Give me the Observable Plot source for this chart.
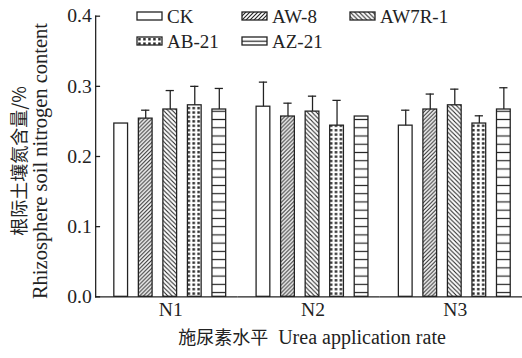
<!DOCTYPE html>
<html><head><meta charset="utf-8">
<script src="https://cdn.jsdelivr.net/npm/d3@7"></script>
<script src="https://cdn.jsdelivr.net/npm/@observablehq/plot@0.6"></script>
<style>
html,body{margin:0;padding:0;background:#fff;overflow:hidden;}
#wrap{position:relative;width:522px;height:358px;overflow:hidden;font-family:"Liberation Serif","Times New Roman","Tinos","DejaVu Serif",serif;color:#222;}
#chart{position:absolute;left:0;top:0;}
.rot{position:absolute;white-space:nowrap;transform:translate(-50%,-50%) rotate(-90deg);line-height:1;}
#xtitle{position:absolute;left:312px;top:326px;transform:translateX(-50%);white-space:nowrap;font-size:20px;line-height:20px;}
#legend{position:absolute;left:0;top:0;}
</style></head>
<body>
<svg width="0" height="0" style="position:absolute">
<defs>
<pattern id="pCK" patternUnits="userSpaceOnUse" width="4" height="4"><rect width="4" height="4" fill="#fff"/></pattern>
<pattern id="pAW8" patternUnits="userSpaceOnUse" width="4" height="4"><rect width="4" height="4" fill="#fff"/><path d="M-1,1 l2,-2 M0,4 l4,-4 M3,5 l2,-2" stroke="#222" stroke-width="1.1"/></pattern>
<pattern id="pAW7" patternUnits="userSpaceOnUse" width="4.5" height="4.5"><rect width="4.5" height="4.5" fill="#fff"/><path d="M-1,3.5 l2,2 M0,0 l4.5,4.5 M3.5,-1 l2,2" stroke="#222" stroke-width="1.1"/></pattern>
<pattern id="pAB" patternUnits="userSpaceOnUse" width="5" height="4.5"><rect width="5" height="4.5" fill="#fff"/><rect x="1.2" y="1" width="2.5" height="2.4" fill="#222"/></pattern>
<pattern id="pAZ" patternUnits="userSpaceOnUse" width="10" height="8.4"><rect width="10" height="8.4" fill="#fff"/><path d="M0,4.2 h10" stroke="#222" stroke-width="1.2"/></pattern>
</defs></svg>
<div id="wrap">
  <div id="chart"></div>
  <div class="rot" style="left:18px;top:161px;font-size:18px;font-family:'Noto Sans CJK SC';color:#222;">根际土壤氮含量/%</div>
  <div class="rot" style="left:40px;top:161px;font-size:20.5px;">Rhizosphere soil nitrogen content</div>
  <div id="xtitle"><span style="font-family:'Noto Sans CJK SC';font-size:18px;">施尿素水平</span>&nbsp;&nbsp;Urea application rate</div>
  <svg id="legend" width="522" height="60"></svg>
</div>
<script>
// ---- data ----
const groups = ["N1", "N2", "N3"];
const series = ["CK", "AW-8", "AW7R-1", "AB-21", "AZ-21"];
const valuesN1 = [0.247, 0.254, 0.267, 0.273, 0.267];
const valuesN2 = [0.271, 0.257, 0.264, 0.244, 0.257];
const valuesN3 = [0.244, 0.267, 0.273, 0.247, 0.267];
const errorsN1 = [0, 0.012, 0.027, 0.027, 0.030];
const errorsN2 = [0.035, 0.019, 0.022, 0.036, 0];
const errorsN3 = [0.022, 0.022, 0.023, 0.011, 0.031];
const yTicks = [0, 0.1, 0.2, 0.3, 0.4];
const fills = ["url(#pCK)", "url(#pAW8)", "url(#pAW7)", "url(#pAB)", "url(#pAZ)"];

const valuesByGroup = [valuesN1, valuesN2, valuesN3];
const errorsByGroup = [errorsN1, errorsN2, errorsN3];
const rows = [];
groups.forEach((g, gi) => series.forEach((s, si) => rows.push({
  group: g, series: s, value: valuesByGroup[gi][si], err: errorsByGroup[gi][si]
})));
const errRows = rows.filter(d => d.err > 0);

const ink = "#222";
const fontStack = "'Liberation Serif', 'Times New Roman', Tinos, 'DejaVu Serif', serif";
const chart = Plot.plot({
  width: 532, height: 358,
  marginLeft: 97, marginRight: 0, marginTop: 16, marginBottom: 56,
  facet: {marginTop: 0, marginBottom: 0, marginLeft: 0, marginRight: 0},
  style: {fontFamily: fontStack, fontSize: "20px", color: ink, background: "transparent", overflow: "visible"},
  fx: {domain: groups, padding: 0, label: null},
  x: {domain: series, paddingInner: 0.431, paddingOuter: 0.559, align: 0.63, axis: null},
  y: {domain: [0, 0.4], label: null},
  color: {type: "ordinal", domain: series, range: fills},
  marks: [
    Plot.barY(rows, {fx: "group", x: "series", y: "value", fill: "series", stroke: ink, strokeWidth: 1.3}),
    Plot.ruleX(errRows, {fx: "group", x: "series", y1: "value", y2: d => d.value + d.err, stroke: ink, strokeWidth: 1.3}),
    Plot.tickY(errRows, {fx: "group", x: "series", y: d => d.value + d.err, stroke: ink, strokeWidth: 1.3, insetLeft: 2.8, insetRight: 2.8}),
    Plot.ruleY([0], {stroke: ink, strokeWidth: 1.3}),
    Plot.frame({anchor: "left", facetAnchor: "left", stroke: ink, strokeWidth: 1.3}),
    Plot.axisY(yTicks, {tickFormat: d3.format(".1f"), tickSize: -5, tickPadding: 9, strokeWidth: 1.3, label: null}),
    Plot.axisFx({anchor: "bottom", tickSize: 0, tickPadding: 5, dx: 4, label: null})
  ]
});
document.getElementById("chart").appendChild(chart);

// ---- legend ----
const legend = d3.select("#legend");
const cols = [137, 242, 350], rowsY = [12, 37];
series.forEach((s, i) => {
  const r = i < 3 ? 0 : 1, c = i < 3 ? i : i - 3;
  const g = legend.append("g").attr("transform", `translate(${cols[c]},${rowsY[r]})`);
  g.append("rect").attr("x", 0).attr("y", 0).attr("width", 25).attr("height", 8)
    .attr("fill", fills[i]).attr("stroke", ink).attr("stroke-width", 1.3);
  g.append("text").attr("x", 30).attr("y", 11).attr("font-size", 19)
    .attr("font-family", fontStack).attr("fill", ink).text(s);
});
</script>
</body></html>
